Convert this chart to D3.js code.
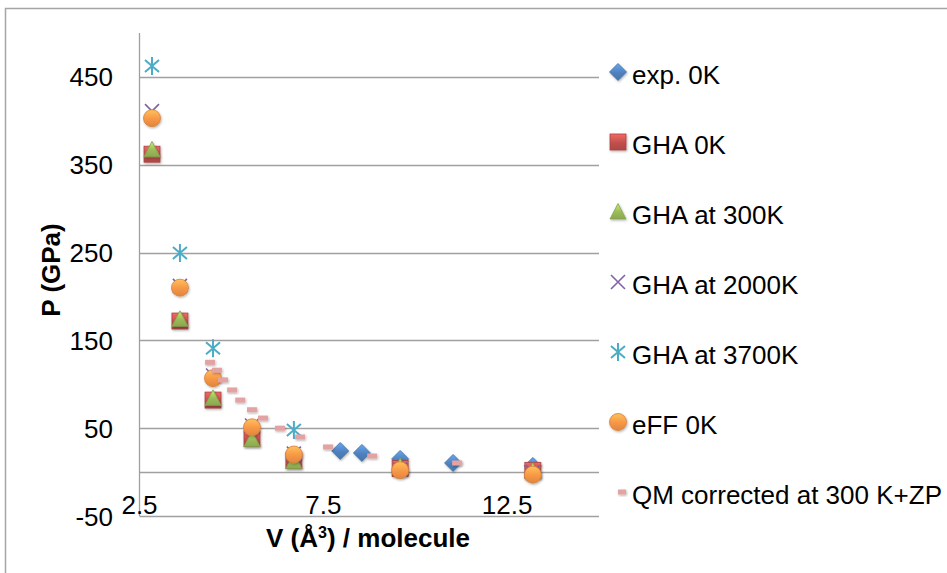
<!DOCTYPE html>
<html>
<head>
<meta charset="utf-8">
<script src="https://cdn.jsdelivr.net/npm/d3@7"></script>
<style>
  html, body { margin: 0; padding: 0; background: #fff; overflow: hidden; }
  svg { display: block; font-family: "Liberation Sans", Arial, sans-serif; }
</style>
</head>
<body>
<svg id="chart" width="947" height="573"></svg>
<script>
// Volume (Å³ per molecule) and pressure (GPa) for each data set
const expV = [7.96, 8.55, 9.59, 11.03, 13.2];
const expP = [24, 21.8, 15, 10.4, 7];

const ghaV = [2.84, 3.60, 4.50, 5.56, 6.70, 9.59, 13.2];
const gha0P = [362, 172, 82, 38, 13, 4, 2];
const gha300P = [367, 174, 84, 37, 12, 6, 1];
const gha2000P = [411, 212, 110, 53, 21, 3, 0];

const gha3700V = [2.84, 3.60, 4.50, 6.70];
const gha3700P = [462.5, 249.5, 141, 48];

const effV = [2.84, 3.60, 4.50, 5.56, 6.70, 9.59, 13.2];
const effP = [403, 210, 107, 51, 20, 2, -3];

const qmV = [4.42, 4.61, 4.77, 5.02, 5.24, 5.56, 5.86, 6.32, 6.87, 7.63, 8.83, 11.14];
const qmP = [125, 116, 105, 93.5, 82, 71, 61.5, 50, 40, 28.6, 18.3, 10.4];

const xTicks = [2.5, 7.5, 12.5];
const yTicks = [-50, 50, 150, 250, 350, 450];

const seriesNames = ["exp. 0K", "GHA 0K", "GHA at 300K", "GHA at 2000K",
                     "GHA at 3700K", "eFF 0K", "QM corrected at 300 K+ZP"];

const series = [
  { name: seriesNames[0], v: expV, p: expP, shape: "diamond", color: "#4f81bd" },
  { name: seriesNames[1], v: ghaV, p: gha0P, shape: "square", color: "#c0504d" },
  { name: seriesNames[2], v: ghaV, p: gha300P, shape: "triangle", color: "#9bbb59" },
  { name: seriesNames[3], v: ghaV, p: gha2000P, shape: "x", color: "#8064a2" },
  { name: seriesNames[4], v: gha3700V, p: gha3700P, shape: "star", color: "#4bacc6" },
  { name: seriesNames[5], v: effV, p: effP, shape: "circle", color: "#f79646" },
  { name: seriesNames[6], v: qmV, p: qmP, shape: "dash", color: "#e3a3a3" }
];

const svg = d3.select("#chart");
const FONT = 26;

const x = d3.scaleLinear().domain([2.5, 15]).range([139.5, 599]);
const y = d3.scaleLinear().domain([-50, 500]).range([516, 33]);

// gradients for glossy markers
const defs = svg.append("defs");
function grad(id, c) {
  const g = defs.append("linearGradient").attr("id", id)
    .attr("x1", 0).attr("y1", 0).attr("x2", 0).attr("y2", 1);
  g.append("stop").attr("offset", "0%").attr("stop-color", d3.color(c).brighter(0.7));
  g.append("stop").attr("offset", "55%").attr("stop-color", c);
  g.append("stop").attr("offset", "100%").attr("stop-color", d3.color(c).darker(0.3));
}
series.forEach((s, i) => grad("g" + i, s.color));
const shadow = defs.append("filter").attr("id", "sh").attr("x", "-50%").attr("y", "-50%")
  .attr("width", "200%").attr("height", "200%");
shadow.append("feDropShadow").attr("dx", 0.8).attr("dy", 1.2).attr("stdDeviation", 0.8)
  .attr("flood-color", "#000").attr("flood-opacity", 0.3);

// outer chart frame
svg.append("rect").attr("x", 5.5).attr("y", 8.5).attr("width", 1200).attr("height", 1200)
  .attr("fill", "none").attr("stroke", "#a5a5a5").attr("stroke-width", 1.5);

// horizontal gridlines
svg.append("g").selectAll("line").data(yTicks).join("line")
  .attr("x1", x(2.5)).attr("x2", x(15))
  .attr("y1", d => Math.round(y(d)) + 0.5).attr("y2", d => Math.round(y(d)) + 0.5)
  .attr("stroke", "#a0a0a0").attr("stroke-width", 1.3);

// horizontal axis line at P = 0
svg.append("line").attr("x1", x(2.5)).attr("x2", x(15))
  .attr("y1", Math.round(y(0)) + 0.5).attr("y2", Math.round(y(0)) + 0.5)
  .attr("stroke", "#a0a0a0").attr("stroke-width", 1.3);

// vertical axis line
svg.append("line").attr("x1", x(2.5)).attr("x2", x(2.5))
  .attr("y1", y(500)).attr("y2", y(-50))
  .attr("stroke", "#a0a0a0").attr("stroke-width", 1.3);

// y tick labels
svg.append("g").selectAll("text").data(yTicks).join("text")
  .attr("x", 113).attr("y", d => y(d) + 9.5)
  .attr("text-anchor", "end").attr("font-size", FONT).attr("fill", "#000")
  .text(d => d);

// x tick labels, placed low at the bottom of the plot
svg.append("g").selectAll("text").data(xTicks).join("text")
  .attr("x", d => x(d)).attr("y", 514)
  .attr("text-anchor", "middle").attr("font-size", FONT).attr("fill", "#000")
  .text(d => d);

// axis titles
svg.append("text").attr("transform", "translate(60,270) rotate(-90)")
  .attr("text-anchor", "middle").attr("font-size", FONT).attr("font-weight", "bold")
  .text("P (GPa)");
const xt = svg.append("text").attr("x", 368).attr("y", 547)
  .attr("text-anchor", "middle").attr("font-size", FONT).attr("font-weight", "bold");
xt.append("tspan").text("V (Å");
xt.append("tspan").attr("font-size", FONT * 0.62).attr("dy", -9).text("3");
xt.append("tspan").attr("dy", 9).text(") / molecule");

// marker drawing
function drawMarker(g, shape, i, color) {
  const fill = "url(#g" + i + ")";
  const stroke = d3.color(color).darker(0.4);
  switch (shape) {
    case "diamond":
      g.append("path").attr("d", "M0,-8.5L8.5,0L0,8.5L-8.5,0Z")
        .attr("fill", fill).attr("stroke", stroke).attr("stroke-width", 0.8).attr("filter", "url(#sh)");
      break;
    case "square":
      g.append("rect").attr("x", -8).attr("y", -8).attr("width", 16).attr("height", 16)
        .attr("fill", fill).attr("stroke", stroke).attr("stroke-width", 0.8).attr("filter", "url(#sh)");
      break;
    case "triangle":
      g.append("path").attr("d", "M0,-8.5L8,7L-8,7Z")
        .attr("fill", fill).attr("stroke", stroke).attr("stroke-width", 0.8).attr("filter", "url(#sh)");
      break;
    case "x":
      g.append("path").attr("d", "M-7,-7L7,7M7,-7L-7,7")
        .attr("stroke", color).attr("stroke-width", 1.6).attr("fill", "none");
      break;
    case "star":
      g.append("path").attr("d", "M-7,-6L7,6M7,-6L-7,6M0,-9L0,9")
        .attr("stroke", color).attr("stroke-width", 2).attr("fill", "none");
      break;
    case "circle":
      g.append("circle").attr("r", 8.5)
        .attr("fill", fill).attr("stroke", stroke).attr("stroke-width", 0.8).attr("filter", "url(#sh)");
      break;
    case "dash":
      g.append("rect").attr("x", -5).attr("y", -2.5).attr("width", 10).attr("height", 5)
        .attr("fill", color).attr("filter", "url(#sh)");
      break;
  }
}

// plot points
series.forEach((s, i) => {
  const pts = s.v.map((v, k) => ({ v, p: s.p[k] }));
  const layer = svg.append("g");
  layer.selectAll("g").data(pts).join("g")
    .attr("transform", d => `translate(${x(d.v)},${y(d.p)})`)
    .each(function () { drawMarker(d3.select(this), s.shape, i, s.color); });
});

// legend
const legendY = [84, 154, 224, 294, 364, 434, 504];
series.forEach((s, i) => {
  const g = svg.append("g").attr("transform", `translate(0,${legendY[i]})`);
  const m = g.append("g").attr("transform", `translate(${s.shape === "dash" ? 622 : 618},-12)`);
  drawMarker(m, s.shape, i, s.color);
  if (s.shape === "dash") m.select("rect").attr("x", -4).attr("width", 8);
  g.append("text").attr("x", 632).attr("y", 0).attr("font-size", FONT).attr("fill", "#000")
    .text(s.name);
});
</script>
</body>
</html>
